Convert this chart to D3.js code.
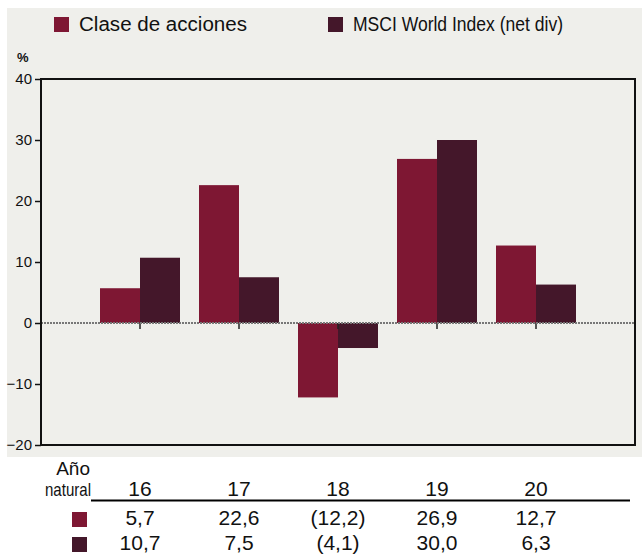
<!DOCTYPE html>
<html>
<head>
<meta charset="utf-8">
<script src="https://cdn.jsdelivr.net/npm/d3@7"></script>
<style>
  body { margin: 0; background: #fff; }
  svg { display: block; }
  text { font-family: "Liberation Sans", Arial, sans-serif; fill: #111; }
</style>
</head>
<body>
<div id="chart"></div>
<script>
const years = ["16", "17", "18", "19", "20"];
const fundValues = [5.7, 22.6, -12.2, 26.9, 12.7];
const indexValues = [10.7, 7.5, -4.1, 30.0, 6.3];
const fundLabels = ["5,7", "22,6", "(12,2)", "26,9", "12,7"];
const indexLabels = ["10,7", "7,5", "(4,1)", "30,0", "6,3"];
const yTicks = [-20, -10, 0, 10, 20, 30, 40];
const seriesNames = ["Clase de acciones", "MSCI World Index (net div)"];
const colors = ["#7e1733", "#44172a"];

const width = 642;
const height = 554;

const svg = d3.select("#chart")
    .append("svg")
    .attr("width", width)
    .attr("height", height);

// grey panel behind chart + legend
svg.append("rect")
    .attr("x", 7).attr("y", 8)
    .attr("width", width - 7).attr("height", 449)
    .attr("fill", "#efefeb");

const plot = { left: 41, right: 635, top: 79, bottom: 445 };

const x = d3.scaleLinear()
    .domain([0, years.length + 1])
    .range([plot.left, plot.right]);

const y = d3.scaleLinear()
    .domain([-20, 40])
    .range([plot.bottom, plot.top]);

const barW = 40;

// LEGEND (condensed face in the original -> squeeze with textLength)
const legend = svg.append("g");
const legendPos = [{ x: 54, w: 168 }, { x: 328, w: 210 }];
legendPos.forEach((p, i) => {
    legend.append("rect")
        .attr("x", p.x).attr("y", 17)
        .attr("width", 15).attr("height", 15)
        .attr("fill", colors[i]);
    legend.append("text")
        .attr("x", p.x + 25).attr("y", 31)
        .attr("textLength", p.w)
        .attr("lengthAdjust", "spacingAndGlyphs")
        .style("font-size", "20px")
        .text(seriesNames[i]);
});

svg.append("text")
    .attr("x", 17).attr("y", 62)
    .style("font-size", "13px")
    .style("font-weight", "bold")
    .text("%");

// BARS
const groups = svg.selectAll("g.year")
    .data(years)
    .enter()
    .append("g")
    .attr("class", "year");

groups.append("rect")
    .attr("x", (d, i) => x(i + 1) - barW)
    .attr("y", (d, i) => y(Math.max(0, fundValues[i])))
    .attr("width", barW)
    .attr("height", (d, i) => Math.abs(y(fundValues[i]) - y(0)))
    .attr("fill", colors[0]);

groups.append("rect")
    .attr("x", (d, i) => x(i + 1))
    .attr("y", (d, i) => y(Math.max(0, indexValues[i])))
    .attr("width", barW)
    .attr("height", (d, i) => Math.abs(y(indexValues[i]) - y(0)))
    .attr("fill", colors[1]);

// zero line (dotted) + category ticks
svg.append("line")
    .attr("x1", plot.left).attr("x2", plot.right)
    .attr("y1", y(0)).attr("y2", y(0))
    .attr("stroke", "#777")
    .attr("stroke-width", 2)
    .attr("stroke-dasharray", "2,1");

groups.append("line")
    .attr("x1", (d, i) => x(i + 1)).attr("x2", (d, i) => x(i + 1))
    .attr("y1", y(0)).attr("y2", y(0) + 6)
    .attr("stroke", "#222")
    .attr("stroke-width", 1.5);

// frame
svg.append("rect")
    .attr("x", plot.left).attr("y", plot.top)
    .attr("width", plot.right - plot.left)
    .attr("height", plot.bottom - plot.top)
    .attr("fill", "none")
    .attr("stroke", "#111")
    .attr("stroke-width", 2);

// Y AXIS
const yAxis = svg.append("g")
    .attr("transform", `translate(${plot.left},0)`)
    .call(d3.axisLeft(y).tickValues(yTicks).tickSize(6).tickPadding(3).tickFormat(d3.format("d")));
yAxis.select(".domain").remove();
yAxis.selectAll(".tick line").attr("stroke", "#111").attr("stroke-width", 1.5);
yAxis.selectAll(".tick text")
    .style("font-family", "'Liberation Sans', Arial, sans-serif")
    .style("font-size", "15px")
    .attr("fill", "#111");

// TABLE
const table = svg.append("g").style("font-size", "21px");

table.append("text")
    .attr("x", 90).attr("y", 475)
    .attr("text-anchor", "end")
    .style("font-size", "19px")
    .text("Año");
table.append("text")
    .attr("x", 91).attr("y", 496)
    .attr("text-anchor", "end")
    .style("font-size", "19px")
    .attr("textLength", 46)
    .attr("lengthAdjust", "spacingAndGlyphs")
    .text("natural");

table.selectAll("text.yr")
    .data(years)
    .enter()
    .append("text")
    .attr("class", "yr")
    .attr("x", (d, i) => x(i + 1))
    .attr("y", 496)
    .attr("text-anchor", "middle")
    .text(d => d);

table.append("line")
    .attr("x1", 91).attr("x2", 630)
    .attr("y1", 500.5).attr("y2", 500.5)
    .attr("stroke", "#000")
    .attr("stroke-width", 2);

[fundLabels, indexLabels].forEach((labels, r) => {
    const rowY = 525 + r * 25;
    table.append("rect")
        .attr("x", 72).attr("y", 512 + r * 25)
        .attr("width", 15).attr("height", 15)
        .attr("fill", colors[r]);
    table.selectAll("text.v" + r)
        .data(labels)
        .enter()
        .append("text")
        .attr("class", "v" + r)
        .attr("x", (d, i) => x(i + 1))
        .attr("y", rowY)
        .attr("text-anchor", "middle")
        .text(d => d);
});
</script>
</body>
</html>
